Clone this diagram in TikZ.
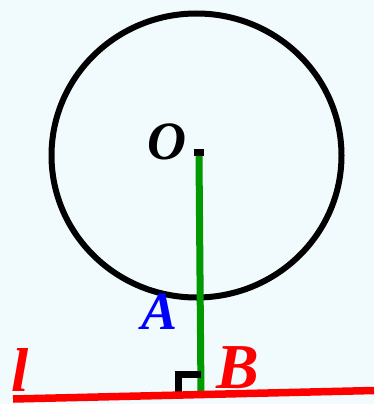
\documentclass[tikz,border=0pt]{standalone}
\usepackage{fontspec}
\setmainfont{Liberation Serif}
\usetikzlibrary{positioning}
\definecolor{bgblue}{RGB}{241,250,252}
\definecolor{perpgreen}{RGB}{0,153,0}

\begin{document}
\begin{tikzpicture}[x=1pt, y=-1pt, lbl/.style={inner sep=0pt, font=\bfseries\itshape}]
  \fill[bgblue] (0,0) rectangle (374,404);
  \coordinate (C) at (196.5,155.5);
  \draw[line width=6pt] (C) ellipse [x radius=145pt, y radius=142pt];
  \node[fill=black, minimum width=10pt, minimum height=7pt, inner sep=0pt] (dotO) at (199,152.5) {};
  \coordinate (B) at (201,395);
  \coordinate (l1) at (13,399);
  \coordinate (l2) at (374,390.5);
  \draw[perpgreen, line width=7pt] (dotO.south) -- (B);
  \draw[line width=7pt, line join=miter] (178,395) -- (178,374) -- (201,374);
  \draw[red, line width=7.5pt] (l1) -- (l2);
  \node[lbl, font=\bfseries\itshape\fontsize{54}{54}\selectfont] (labelO) at (167,141.5) {O};
  \node[lbl, blue, font=\bfseries\itshape\fontsize{54}{54}\selectfont] (labelA) at (160,311.5) {A};
  \node[lbl, red, font=\bfseries\itshape\fontsize{64}{64}\selectfont] (labelB) at (238,367.5) {B};
  \node[lbl, red, font=\bfseries\itshape\fontsize{62}{62}\selectfont] (labell) at (20,370) {l};
\end{tikzpicture}
\end{document}
